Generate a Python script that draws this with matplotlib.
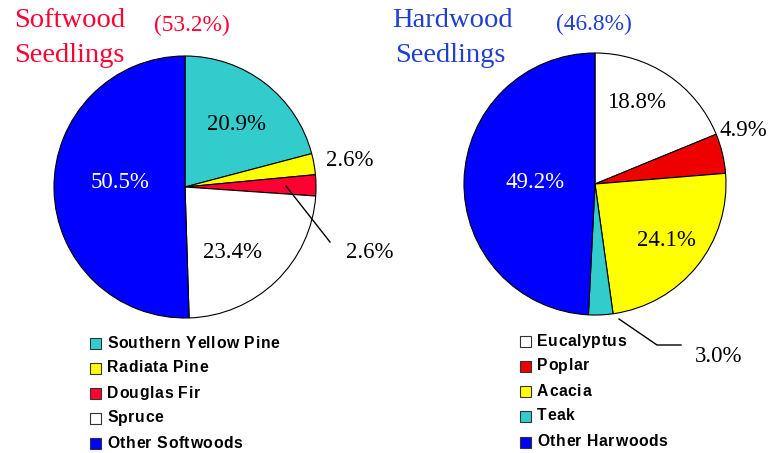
import matplotlib.pyplot as plt
from matplotlib.patches import Rectangle
from matplotlib.font_manager import FontProperties, findfont, get_font

W, H = 769, 453

soft_names = ["Southern Yellow Pine", "Radiata Pine", "Douglas Fir", "Spruce", "Other Softwoods"]
soft_vals = [20.9, 2.6, 2.6, 23.4, 50.5]
soft_total = 53.2

hard_names = ["Eucalyptus", "Poplar", "Acacia", "Teak", "Other Harwoods"]
hard_vals = [18.8, 4.9, 24.1, 3.0, 49.2]
hard_total = 46.8

soft_colors = ["#33CCCC", "#FFFF00", "#FF0033", "#FFFFFF", "#0000FF"]
hard_colors = ["#FFFFFF", "#EE0000", "#FFFF00", "#33CCCC", "#0000FF"]

# label spots in pixel coords (x right, y down)
soft_lbl_pos = [(236, 124), (350, 161), (370, 253), (233, 253), (120, 182)]
hard_lbl_pos = [(637, 102), (743, 131), (666, 240), (719, 356), (535, 182)]
soft_lbl_col = ["k", "k", "k", "k", "w"]
hard_lbl_col = ["k", "k", "k", "k", "w"]

serif = "Liberation Serif"
sans = "Liberation Sans"
LEG_SIZE = 11.3
TRACK = 0.6  # extra px between legend letters

fig = plt.figure(figsize=(W / 100, H / 100), dpi=100)
ax = fig.add_axes([0, 0, 1, 1])

leg_prop = FontProperties(family=sans, weight="bold", size=LEG_SIZE)
leg_font = get_font(findfont(leg_prop))
leg_font.set_size(LEG_SIZE, 100)


def py(y):
    return H - y


def advance(ch):
    return leg_font.load_char(ord(ch)).linearHoriAdvance / 65536


def spaced_text(x, y, s):
    # letter-spaced text, one glyph at a time (1 data unit == 1 px)
    for ch in s:
        if ch != " ":
            ax.text(x, y, ch, ha="left", va="center", fontproperties=leg_prop,
                    color="black")
        x += advance(ch) + TRACK


def draw_pie(vals, colors, cx, cy, r):
    ax.pie(vals, colors=colors, startangle=90, counterclock=False,
           center=(cx, py(cy)), radius=r,
           wedgeprops=dict(edgecolor="black", linewidth=0.8))


def draw_labels(vals, pos, cols):
    for v, (x, y), c in zip(vals, pos, cols):
        ax.text(x, py(y), f"{v:.1f}%", ha="center", va="center",
                family=serif, fontsize=16.5, color=c)


def draw_legend(names, colors, x0, ys):
    for name, c, y in zip(names, colors, ys):
        ax.add_patch(Rectangle((x0, py(y) - 5.5), 11, 11, facecolor=c,
                               edgecolor="#333333", linewidth=0.8))
        spaced_text(x0 + 17, py(y), name)


draw_pie(soft_vals, soft_colors, 185, 187, 131)
draw_pie(hard_vals, hard_colors, 595, 184, 131)

draw_labels(soft_vals, soft_lbl_pos, soft_lbl_col)
draw_labels(hard_vals, hard_lbl_pos, hard_lbl_col)

# leader lines for the thin slices
ax.plot([286, 330], [py(186), py(242)], color="black", lw=1)
ax.plot([619, 657, 681], [py(319), py(345), py(345)], color="black", lw=1)

# titles
red = "#FF0033"
blue = "#1F3FCF"
ax.text(14, py(27), "Softwood", family=serif, fontsize=20.5, color=red, va="baseline")
ax.text(14, py(62), "Seedlings", family=serif, fontsize=20.5, color=red, va="baseline")
ax.text(154, py(31), f"({soft_total:.1f}%)", family=serif, fontsize=16.8, color=red, va="baseline")
ax.text(392, py(27), "Hardwood", family=serif, fontsize=20.5, color=blue, va="baseline")
ax.text(395, py(62), "Seedlings", family=serif, fontsize=20.5, color=blue, va="baseline")
ax.text(556, py(30), f"({hard_total:.1f}%)", family=serif, fontsize=16.8, color=blue, va="baseline")

draw_legend(soft_names, soft_colors, 90, [343, 368, 393, 418, 443])
draw_legend(hard_names, hard_colors, 520, [341, 366, 391, 416, 442])

ax.set_xlim(0, W)
ax.set_ylim(0, H)
ax.set_aspect("equal")
ax.axis("off")

fig.savefig("out.png", dpi=100)
